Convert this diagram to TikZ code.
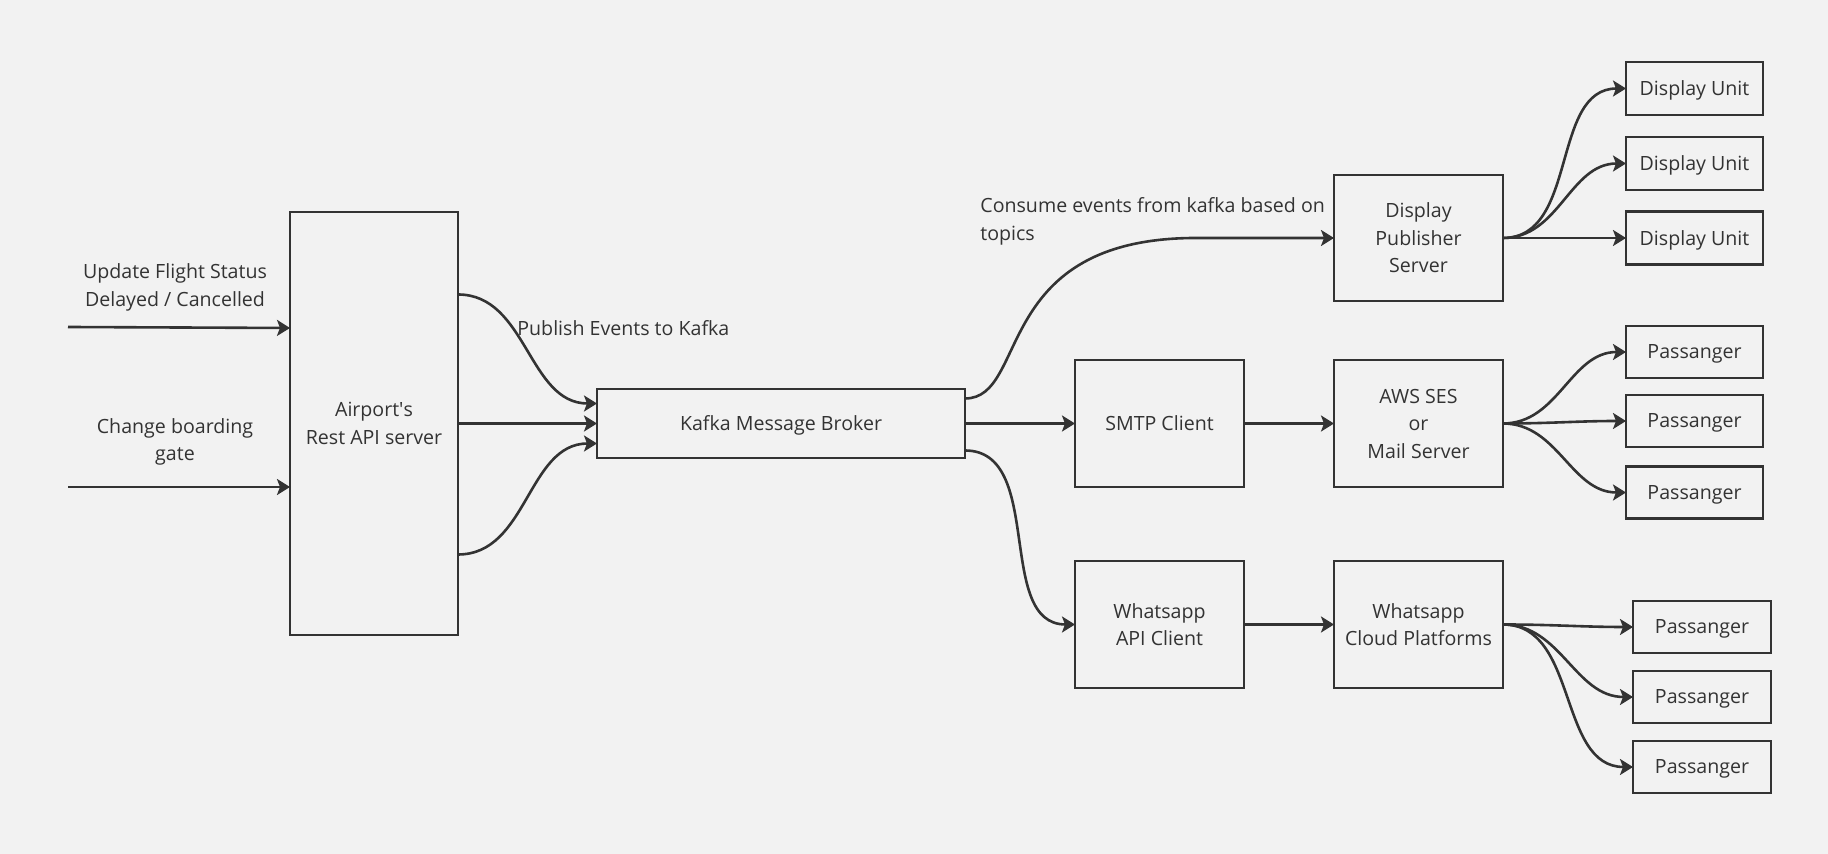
\documentclass[tikz,border=0pt]{standalone}
\usepackage{fontspec}
\setmainfont{Open Sans}
\usetikzlibrary{arrows.meta,calc}
\definecolor{bg}{HTML}{F2F2F2}
\definecolor{ink}{HTML}{333333}
\begin{document}
\begin{tikzpicture}[x=0.5pt,y=-0.5pt,
  font=\fontsize{9.8pt}{13.75pt}\selectfont, text=ink,
  box/.style={draw=ink, line width=1.3pt, fill=bg, align=center, inner sep=0pt, outer sep=0pt, text depth=0pt},
  conn/.style={draw=ink, line width=1.3pt, -{Stealth[length=6.5pt,width=8pt,inset=1.5pt]}},
  lbl/.style={align=center, inner sep=0pt}]
\fill[bg] (0,0) rectangle (1828,854);
\useasboundingbox (0,0) rectangle (1828,854);

% main boxes
\node[box, minimum width=84pt, minimum height=211.5pt] (air) at (374,423.5) {Airport\textquotesingle s\\Rest API server};
\node[box, minimum width=184pt, minimum height=34.5pt] (kafka) at (781,423.5) {Kafka Message Broker};
\node[box, minimum width=84.5pt, minimum height=63pt] (dpub) at (1418.5,238) {Display\\Publisher\\Server};
\node[box, minimum width=84.5pt, minimum height=63.5pt] (smtp) at (1159.5,423.5) {SMTP Client};
\node[box, minimum width=84.5pt, minimum height=63.5pt] (aws) at (1418.5,423.5) {AWS SES\\or\\Mail Server};
\node[box, minimum width=84.5pt, minimum height=63.5pt] (waapi) at (1159.5,624.5) {Whatsapp\\API Client};
\node[box, minimum width=84.5pt, minimum height=63.5pt] (wacloud) at (1418.5,624.5) {Whatsapp\\Cloud Platforms};

% leaves
\node[box, minimum width=68.5pt, minimum height=26.5pt] (du1) at (1694.5,88.5) {Display Unit};
\node[box, minimum width=68.5pt, minimum height=26.5pt] (du2) at (1694.5,163.5) {Display Unit};
\node[box, minimum width=68.5pt, minimum height=26.5pt] (du3) at (1694.5,238) {Display Unit};
\node[box, minimum width=68.5pt, minimum height=26pt] (p1) at (1694.5,352) {Passanger};
\node[box, minimum width=68.5pt, minimum height=26pt] (p2) at (1694.5,421) {Passanger};
\node[box, minimum width=68.5pt, minimum height=26pt] (p3) at (1694.5,492.5) {Passanger};
\node[box, minimum width=69pt, minimum height=26pt] (p4) at (1702,627) {Passanger};
\node[box, minimum width=69pt, minimum height=26pt] (p5) at (1702,697) {Passanger};
\node[box, minimum width=69pt, minimum height=26pt] (p6) at (1702,767) {Passanger};

% labels
\node[lbl] (lab1) at (175,287.5) {Update Flight Status\\Delayed / Cancelled};
\node[lbl] (lab2) at (175,442) {Change boarding\\gate};
\node[lbl, anchor=west] (lab3) at (517,328) {Publish Events to Kafka};
\node[lbl, anchor=west, align=left] (lab4) at (980,221.5) {Consume events from kafka based on\\topics};

% inputs
\coordinate (in1) at (68,327);
\coordinate (in2) at (68,487);
\draw[conn] (in1) -- ($(air.west)+(0,-95.5)$);
\draw[conn] (in2) -- ($(air.west)+(0,63.5)$);

% airport -> kafka
\draw[conn] ($(air.east)+(0,-129)$) to[out=0,in=180] ($(kafka.west)+(0,-20)$);
\draw[conn] (air.east) -- (kafka.west);
\draw[conn] ($(air.east)+(0,131)$) to[out=0,in=180] ($(kafka.west)+(0,20)$);

% kafka -> consumers
\draw[conn] ($(kafka.east)+(0,-25)$) .. controls +(65,0) and +(-210,-2) .. ([xshift=-67pt]dpub.west) -- (dpub.west);
\draw[conn] (kafka.east) -- (smtp.west);
\draw[conn] ($(kafka.east)+(0,27)$) to[out=0,in=180] (waapi.west);
\draw[conn] (smtp.east) -- (aws.west);
\draw[conn] (waapi.east) -- (wacloud.west);

% fans
\draw[conn] (dpub.east) to[out=0,in=180] (du1.west);
\draw[conn] (dpub.east) to[out=0,in=180] (du2.west);
\draw[conn] (dpub.east) -- (du3.west);
\draw[conn] (aws.east) to[out=0,in=180] (p1.west);
\draw[conn] (aws.east) to[out=0,in=180] (p2.west);
\draw[conn] (aws.east) to[out=0,in=180] (p3.west);
\draw[conn] (wacloud.east) to[out=0,in=180] (p4.west);
\draw[conn] (wacloud.east) to[out=0,in=180] (p5.west);
\draw[conn] (wacloud.east) to[out=0,in=180] (p6.west);
\end{tikzpicture}
\end{document}
